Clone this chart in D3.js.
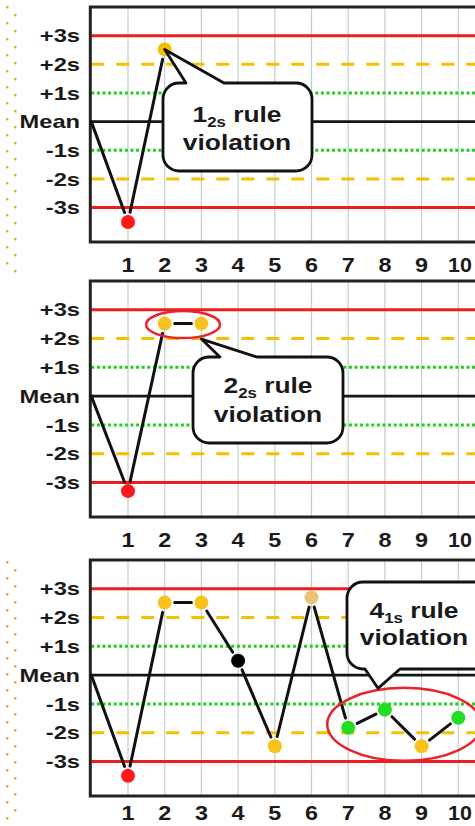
<!DOCTYPE html>
<html><head><meta charset="utf-8">
<script src="https://cdn.jsdelivr.net/npm/d3@7"></script>
<style>
html,body{margin:0;padding:0;background:#fff;overflow:hidden;}
svg{display:block;}
text{font-family:"Liberation Sans",Arial,sans-serif;font-weight:bold;fill:#1a1a1a;}
</style></head>
<body>
<svg id="chart" width="475" height="826"></svg>
<script>
// ---------- data ----------
const runs = [1,2,3,4,5,6,7,8,9,10];
const xTickLabels = ["1","2","3","4","5","6","7","8","9","10"];
const sdLevels = [3,2,1,0,-1,-2,-3];
const sdLabels = ["+3s","+2s","+1s","Mean","-1s","-2s","-3s"];

const panel1Values = [-3.5, 2.52];
const panel1Colors = ["#ff1a1a", "#f2c200"];

const panel2Values = [-3.3, 2.52, 2.52];
const panel2Colors = ["#ff1a1a", "#f4c520", "#f4c520"];

const panel3Values = [-3.5, 2.52, 2.52, 0.5, -2.47, 2.7, -1.83, -1.2, -2.47, -1.48];
const panel3Colors = ["#ff1a1a","#f7c31a","#f7c31a","#000000","#f7c31a","#e9c27a","#22dd22","#22dd22","#f7c31a","#22dd22"];

const ruleMain = ["1", "2", "4"];
const ruleSub = ["2s", "2s", "1s"];

// ---------- layout ----------
const svg = d3.select("#chart");
const x = d3.scaleLinear().domain([0, 11]).range([91.3, 495]);
const panels = [
  {top: 7, bottom: 242, values: panel1Values, colors: panel1Colors},
  {top: 281, bottom: 517, values: panel2Values, colors: panel2Colors},
  {top: 560, bottom: 796, values: panel3Values, colors: panel3Colors}
];
const SX = 1.28;

// decorative dotted left border
const dotsG = svg.append("g");
[[0, 275], [555, 826]].forEach(([a, b]) => {
  d3.range(a + 7, b, 16).forEach(yy => {
    dotsG.append("rect").attr("x", 6).attr("y", yy - 1).attr("width", 2.4).attr("height", 2.4).attr("fill", "#e3aa48");
    if (yy + 8 < b) dotsG.append("rect").attr("x", 14).attr("y", yy + 7).attr("width", 2.4).attr("height", 2.4).attr("fill", "#e3aa48");
  });
});

function lineStyle(level) {
  const a = Math.abs(level);
  if (a === 3) return {stroke: "#ee1c1c", width: 3, dash: null};
  if (a === 2) return {stroke: "#f5c000", width: 3, dash: "13,12"};
  if (a === 1) return {stroke: "#1ecf1e", width: 3, dash: "3,2.6"};
  return {stroke: "#151515", width: 2.6, dash: null};
}

panels.forEach((p, pi) => {
  const y = d3.scaleLinear().domain([-4.2, 4]).range([p.bottom, p.top]);
  p.y = y;
  const g = svg.append("g");

  // vertical grid
  g.selectAll("line.grid").data(d3.range(1, 12)).join("line")
    .attr("x1", d => x(d)).attr("x2", d => x(d))
    .attr("y1", p.top).attr("y2", p.bottom)
    .attr("stroke", "#c3cfca").attr("stroke-width", 1.2);

  // SD reference lines
  sdLevels.forEach(l => {
    const s = lineStyle(l);
    g.append("line").attr("x1", x(0)).attr("x2", x(11))
      .attr("y1", y(l)).attr("y2", y(l))
      .attr("stroke", s.stroke).attr("stroke-width", s.width)
      .attr("stroke-dasharray", s.dash);
  });

  // frame
  g.append("rect").attr("x", x(0) - 1).attr("y", p.top).attr("width", x(11) - x(0) + 5)
    .attr("height", p.bottom - p.top).attr("fill", "none")
    .attr("stroke", "#222").attr("stroke-width", 3);

  // y labels
  sdLevels.forEach((l, i) => {
    g.append("text").attr("transform", `translate(80,${y(l) + 6.6}) scale(${SX},1)`)
      .attr("text-anchor", "end").attr("font-size", 18.5).text(sdLabels[i]);
  });

  // x tick labels
  const base = Math.min(p.bottom + 29.5, 820);
  runs.forEach((r, i) => {
    const lab = xTickLabels[i];
    const anchorX = lab.length > 1 ? Math.min(x(r) + 2, 460) : x(r);
    g.append("text").attr("transform", `translate(${anchorX},${base}) scale(${lab.length > 1 ? 1.1 : 1.2},1)`)
      .attr("text-anchor", "middle")
      .attr("font-size", 19.5).text(lab);
  });

  // data line
  const pts = [{vx: 0, vy: 0, r: 0}].concat(p.values.map((v, i) => ({vx: runs[i], vy: v, r: 7})));
  for (let i = 0; i < pts.length - 1; i++) {
    const a = pts[i], b = pts[i + 1];
    const ax = x(a.vx), ay = y(a.vy), bx = x(b.vx), by = y(b.vy);
    const len = Math.hypot(bx - ax, by - ay);
    const ux = (bx - ax) / len, uy = (by - ay) / len;
    const sa = a.r ? a.r + 3 : 0, sb = b.r ? b.r + 3 : 0;
    g.append("line")
      .attr("x1", ax + ux * sa).attr("y1", ay + uy * sa)
      .attr("x2", bx - ux * sb).attr("y2", by - uy * sb)
      .attr("stroke", "#111").attr("stroke-width", 3).attr("stroke-linecap", "round");
  }
  g.selectAll("circle.pt").data(p.values).join("circle")
    .attr("cx", (d, i) => x(runs[i])).attr("cy", d => y(d)).attr("r", 7)
    .attr("fill", (d, i) => p.colors[i]);
});

// ---------- annotations ----------
function callout(box, tail, r) {
  const [x0, y0, x1, y1] = box;
  const {side, xa, xb, tx, ty} = tail;
  let d = `M${x0 + r},${y0}`;
  if (side === "top") d += `L${xa},${y0}L${tx},${ty}L${xb},${y0}`;
  d += `L${x1 - r},${y0}A${r},${r} 0 0 1 ${x1},${y0 + r}L${x1},${y1 - r}A${r},${r} 0 0 1 ${x1 - r},${y1}`;
  if (side === "bottom") d += `L${xb},${y1}L${tx},${ty}L${xa},${y1}`;
  d += `L${x0 + r},${y1}A${r},${r} 0 0 1 ${x0},${y1 - r}L${x0},${y0 + r}A${r},${r} 0 0 1 ${x0 + r},${y0}Z`;
  return d;
}
function calloutText(cx, base1, base2, i) {
  const t1 = svg.append("text").attr("transform", `translate(${cx},${base1}) scale(1.2,1)`)
    .attr("text-anchor", "middle").attr("font-size", 22);
  t1.append("tspan").text(ruleMain[i]);
  t1.append("tspan").attr("font-size", 14).attr("dy", 5).text(ruleSub[i]);
  t1.append("tspan").attr("dy", -5).text(" rule");
  svg.append("text").attr("transform", `translate(${cx},${base2}) scale(1.2,1)`)
    .attr("text-anchor", "middle").attr("font-size", 22).text("violation");
}

const P1 = panels[0], P2 = panels[1], P3 = panels[2];

// panel 1: single point beyond 2s
{
  const tx = x(2), ty = P1.y(panel1Values[1]);
  svg.append("path").attr("d", callout([163, 83, 312, 171], {side: "top", xa: 186, xb: 224, tx, ty}, 16))
    .attr("fill", "#fff").attr("stroke", "#111").attr("stroke-width", 2.8).attr("stroke-linejoin", "round");
  calloutText(237, 122, 150, 0);
}
// panel 2: two consecutive points beyond 2s
{
  const cx = (x(2) + x(3)) / 2, cy = P2.y(panel2Values[1]) + 1;
  svg.append("ellipse").attr("cx", cx).attr("cy", cy).attr("rx", 37).attr("ry", 13.5)
    .attr("fill", "none").attr("stroke", "#e8232a").attr("stroke-width", 2.5);
  svg.append("path").attr("d", callout([193, 357, 343, 443], {side: "top", xa: 220, xb: 257, tx: x(3), ty: cy + 14.5}, 16))
    .attr("fill", "#fff").attr("stroke", "#111").attr("stroke-width", 2.8).attr("stroke-linejoin", "round");
  calloutText(268, 393, 422, 1);
}
// panel 3: four consecutive points beyond 1s
{
  const cx = (x(7) + x(10)) / 2 + 1, cy = P3.y(-1.71);
  svg.append("ellipse").attr("cx", cx).attr("cy", cy).attr("rx", 77).attr("ry", 36.5)
    .attr("fill", "none").attr("stroke", "#e8232a").attr("stroke-width", 2.5);
  svg.append("path").attr("d", callout([347, 582, 500, 669], {side: "bottom", xa: 365, xb: 400, tx: 378, ty: cy - 36}, 16))
    .attr("fill", "#fff").attr("stroke", "#111").attr("stroke-width", 2.8).attr("stroke-linejoin", "round");
  calloutText(414, 618, 645, 2);
}
</script>
</body></html>
